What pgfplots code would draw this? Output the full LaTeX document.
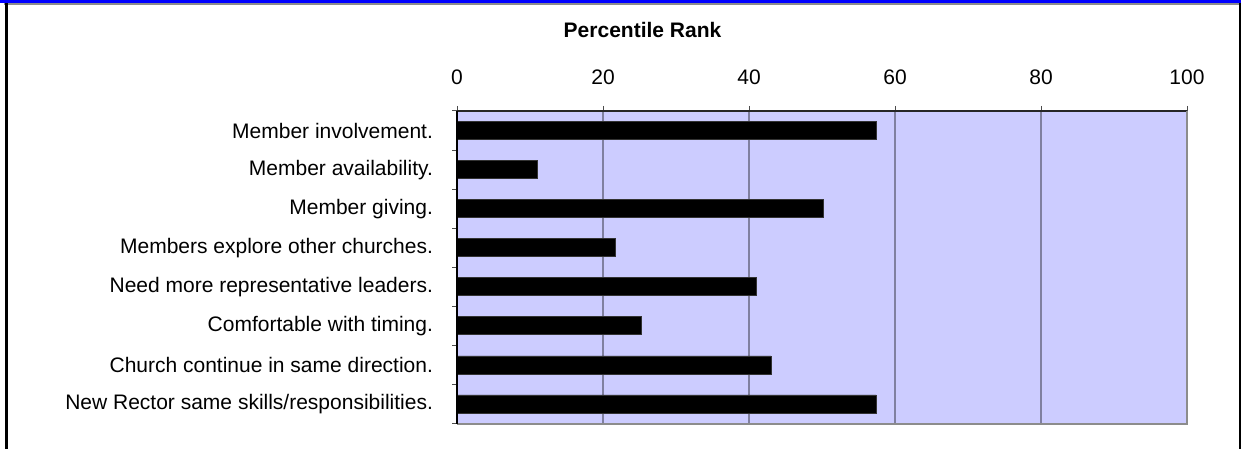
\documentclass[border=0pt]{standalone}
\usepackage{pgfplots}
\pgfplotsset{compat=1.18}
\usepackage{fontspec}
\setmainfont{Liberation Sans}
\definecolor{plotbg}{RGB}{204,204,255}
\definecolor{gridc}{RGB}{128,128,160}
\definecolor{framegray}{RGB}{140,140,140}
\begin{document}
\begin{tikzpicture}[x=1pt,y=1pt]
\useasboundingbox (0,0) rectangle (620.5,224.5);
% outer frame
\fill[blue] (0,223.2) rectangle (620.5,224.5);
\draw[framegray,line width=1pt] (2,222.4) -- (620.5,222.4);
\draw[black,line width=1.2pt] (3.2,0) -- (3.2,222.9);
\draw[black,line width=1.2pt] (619.9,0) -- (619.9,222.9);
\node[font=\fontsize{10.5pt}{12pt}\selectfont\bfseries] at (321.25,209.5) {Percentile Rank};
\begin{axis}[
  at={(228.5pt,12.75pt)}, anchor=south west,
  scale only axis, width=365pt, height=156.25pt,
  xmin=0, xmax=100, ymin=-0.5, ymax=7.5,
  y dir=reverse,
  xbar, bar width=9pt,
  xtick={0,20,40,60,80,100},
  xtick pos=right, xticklabel pos=right,
  xticklabel shift=7pt,
  ytick={0,1,2,3,4,5,6,7},
  yticklabels={Member involvement.,Member availability.,Member giving.,Members explore other churches.,Need more representative leaders.,Comfortable with timing.,Church continue in same direction.,New Rector same skills/responsibilities.},
  ytick pos=left,
  major y tick style={draw=none},
  minor ytick={-0.5,0.5,1.5,2.5,3.5,4.5,5.5,6.5,7.5},
  minor tick length=2.5pt,
  major tick length=2.5pt,
  tick align=outside,
  tick style={black!70, line width=0.5pt},
  yticklabel shift=6pt,
  ticklabel style={font=\fontsize{10.5pt}{12pt}\selectfont},
  /pgf/number format/assume math mode=true,
  xmajorgrids, major grid style={gridc, line width=0.6pt},
  axis background/.style={fill=plotbg},
  axis line style={draw=none},
  clip=false,
]
\addplot[fill=black, draw=black!80] coordinates {
  (57.4,0) (11.0,1) (50.2,2) (21.7,3) (41.0,4) (25.3,5) (43.0,6) (57.4,7)
};
\draw[black!85, line width=0.6pt] (rel axis cs:0,1) -- (rel axis cs:1,1);
\draw[framegray, line width=1pt] (rel axis cs:1,1) -- (rel axis cs:1,0) -- (rel axis cs:0,0);
\draw[black, line width=1pt] (rel axis cs:0,0) -- (rel axis cs:0,1);
\end{axis}
\end{tikzpicture}
\end{document}
